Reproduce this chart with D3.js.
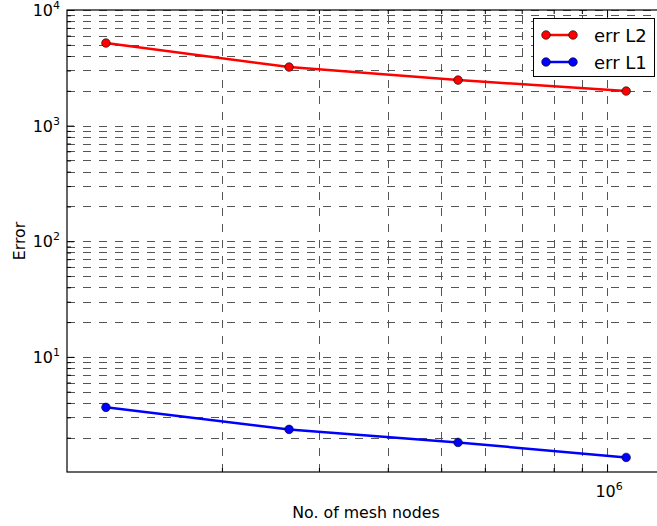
<!DOCTYPE html>
<html><head><meta charset="utf-8">
<script src="https://cdn.jsdelivr.net/npm/d3@7"></script>
<style>
html,body{margin:0;padding:0;background:#fff;}
svg{display:block;font-family:"DejaVu Sans",sans-serif;}
</style></head>
<body><svg id="c" width="657" height="526"></svg>
<script>
const meshNodes = [1.232e5, 2.648e5, 5.365e5, 1.083e6];
const errL2 = [5180, 3210, 2477, 1990];
const errL1 = [3.66, 2.36, 1.82, 1.35];
const seriesNames = ["err L2", "err L1"];
const seriesColors = ["#ff0000", "#0000ff"];
const yMajorExp = [1, 2, 3, 4];
const xMajorExp = [6];
const xLabel = "No. of mesh nodes";
const yLabel = "Error";

const svg = d3.select("#c");
const L = 67, R = 657, T = 10, B = 472;
const x = d3.scaleLog().domain([1.047e5, 1.232e6]).range([L, R]);
const y = d3.scaleLog().domain([1.01, 1e4]).range([B, T]);

const yGrid = [];
for (let e = 0; e <= 3; e++) for (let m = 1; m <= 9; m++) { const v = m * Math.pow(10, e); if (v >= y.domain()[0]) yGrid.push(v); }
yGrid.push(1e4);
const xGrid = [];
for (let e = 5; e <= 6; e++) for (let m = 1; m <= 9; m++) { const v = m * Math.pow(10, e); if (v >= x.domain()[0] && v <= x.domain()[1]) xGrid.push(v); }

const grid = svg.append("g");
grid.selectAll("line.gy").data(yGrid).join("line")
  .attr("x1", L).attr("x2", R).attr("y1", d => Math.round(y(d)) + 0.5).attr("y2", d => Math.round(y(d)) + 0.5)
  .attr("stroke", "#555").attr("stroke-width", 1).attr("stroke-dasharray", "8,8");
grid.selectAll("line.gx").data(xGrid).join("line")
  .attr("y1", B).attr("y2", T).attr("x1", d => Math.round(x(d)) + 0.5).attr("x2", d => Math.round(x(d)) + 0.5)
  .attr("stroke", "#555").attr("stroke-width", 1).attr("stroke-dasharray", "8,8");

const yMajor = yMajorExp.map(e => Math.pow(10, e));
const yMinor = yGrid.filter(v => !yMajor.includes(v));
const xMajor = xMajorExp.map(e => Math.pow(10, e));
const xMinor = xGrid.filter(v => !xMajor.includes(v));
function styleAxis(g) { g.select(".domain").remove(); g.selectAll("line").attr("stroke", "#000"); }
svg.append("g").attr("transform", `translate(${L},0)`).call(d3.axisLeft(y).tickValues(yMajor).tickSize(-7).tickFormat("")).call(styleAxis);
svg.append("g").attr("transform", `translate(${L},0)`).call(d3.axisLeft(y).tickValues(yMinor).tickSize(-4).tickFormat("")).call(styleAxis);
svg.append("g").attr("transform", `translate(0,${B})`).call(d3.axisBottom(x).tickValues(xMajor).tickSize(-7).tickFormat("")).call(styleAxis);
svg.append("g").attr("transform", `translate(0,${B})`).call(d3.axisBottom(x).tickValues(xMinor).tickSize(-4).tickFormat("")).call(styleAxis);
svg.append("g").attr("transform", `translate(0,${T})`).call(d3.axisTop(x).tickValues(xMajor).tickSize(-7).tickFormat("")).call(styleAxis);
svg.append("g").attr("transform", `translate(0,${T})`).call(d3.axisTop(x).tickValues(xMinor).tickSize(-4).tickFormat("")).call(styleAxis);

svg.append("rect").attr("x", L).attr("y", T).attr("width", R - L + 5).attr("height", B - T)
  .attr("fill", "none").attr("stroke", "#000").attr("stroke-width", 1.2);

yMajorExp.forEach(e => {
  const t = svg.append("text").attr("x", 60).attr("y", y(Math.pow(10, e)) + 6)
    .attr("text-anchor", "end").attr("font-size", 16).attr("fill", "#000");
  t.append("tspan").text("10");
  t.append("tspan").attr("dy", -7).attr("font-size", 11).text(String(e));
});
xMajorExp.forEach(e => {
  const t = svg.append("text").attr("x", x(Math.pow(10, e)) + 2).attr("y", 497)
    .attr("text-anchor", "middle").attr("font-size", 16).attr("fill", "#000");
  t.append("tspan").text("10");
  t.append("tspan").attr("dy", -7).attr("font-size", 11).text(String(e));
});

svg.append("text").attr("x", 366).attr("y", 518).attr("text-anchor", "middle")
  .attr("font-size", 15.8).text(xLabel);
svg.append("text").attr("transform", `translate(25,${(T + B) / 2}) rotate(-90)`).attr("text-anchor", "middle")
  .attr("font-size", 15.8).text(yLabel);

const seriesData = [errL2, errL1];
const line = d3.line().x(d => x(d[0])).y(d => y(d[1]));
seriesData.forEach((vals, i) => {
  const pts = meshNodes.map((n, j) => [n, vals[j]]);
  svg.append("path").datum(pts).attr("d", line).attr("fill", "none")
    .attr("stroke", seriesColors[i]).attr("stroke-width", 2.5);
  svg.selectAll(null).data(pts).join("circle")
    .attr("cx", d => x(d[0])).attr("cy", d => y(d[1])).attr("r", 4.3)
    .attr("fill", seriesColors[i]).attr("stroke", "#000").attr("stroke-width", 0.6);
});

const lg = svg.append("g");
lg.append("rect").attr("x", 533.5).attr("y", 18.5).attr("width", 121).attr("height", 58)
  .attr("fill", "#fff").attr("stroke", "#000").attr("stroke-width", 1);
seriesNames.forEach((name, i) => {
  const cy = 35 + i * 27;
  lg.append("line").attr("x1", 546).attr("x2", 573).attr("y1", cy).attr("y2", cy)
    .attr("stroke", seriesColors[i]).attr("stroke-width", 2.5);
  [546, 573].forEach(cx => lg.append("circle").attr("cx", cx).attr("cy", cy).attr("r", 4.3)
    .attr("fill", seriesColors[i]).attr("stroke", "#000").attr("stroke-width", 0.6));
  lg.append("text").attr("x", 594).attr("y", cy + 6.5).attr("font-size", 18).text(name);
});
</script></body></html>
